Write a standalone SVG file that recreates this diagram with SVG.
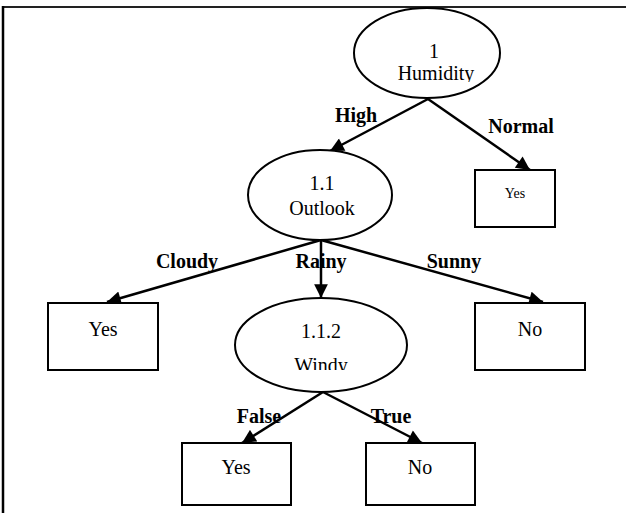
<svg xmlns="http://www.w3.org/2000/svg" width="626" height="513" viewBox="0 0 626 513">
<style>
.node{fill:#fff;stroke:#000;stroke-width:2}
.t{font-family:'Liberation Serif','Times New Roman',Tinos,'DejaVu Serif',serif;font-size:20px;font-weight:normal;fill:#000;text-anchor:middle}
.lbl{font-family:'Liberation Serif','Times New Roman',Tinos,'DejaVu Serif',serif;font-size:20px;font-weight:bold;fill:#000;text-anchor:middle}
.edge{stroke:#000;stroke-width:2.5;fill:none;marker-end:url(#ah)}
</style>
<defs>
<marker id="ah" viewBox="0 0 10 10" refX="10" refY="5" markerWidth="6" markerHeight="5.5" markerUnits="strokeWidth" orient="auto">
<path d="M0,0 L10,5 L0,10 z" fill="#000"/>
</marker>
<clipPath id="c1"><rect x="340" y="0" width="180" height="82"/></clipPath>
<clipPath id="c2"><rect x="230" y="290" width="180" height="80"/></clipPath>
</defs>
<rect width="626" height="513" fill="#fff"/>
<line x1="2" y1="7" x2="626" y2="7" stroke="#222" stroke-width="2"/>
<line x1="3" y1="6" x2="3" y2="513" stroke="#000" stroke-width="2.5"/>
<g id="edges">
<line class="edge" x1="428" y1="99" x2="330" y2="151"/>
<line class="edge" x1="428" y1="99" x2="530" y2="170"/>
<line class="edge" x1="321" y1="240" x2="107" y2="302"/>
<line class="edge" x1="321" y1="240" x2="321" y2="298"/>
<line class="edge" x1="321" y1="240" x2="543" y2="302"/>
<line class="edge" x1="323" y1="392" x2="242" y2="443"/>
<line class="edge" x1="323" y1="392" x2="422" y2="443"/>
</g>
<g id="labels">
<text class="lbl" x="356" y="122">High</text>
<text class="lbl" x="521" y="133">Normal</text>
<text class="lbl" x="187" y="268">Cloudy</text>
<text class="lbl" x="321" y="268">Rainy</text>
<text class="lbl" x="454" y="268">Sunny</text>
<text class="lbl" x="259" y="423">False</text>
<text class="lbl" x="391" y="423">True</text>
</g>
<g id="n1">
<ellipse class="node" cx="427" cy="53" rx="73" ry="45"/>
<g clip-path="url(#c1)">
<text class="t" x="434" y="58">1</text>
<text class="t" x="436" y="80">Humidity</text>
</g>
</g>
<g id="n11">
<ellipse class="node" cx="320" cy="195" rx="72" ry="45"/>
<text class="t" x="322" y="190">1.1</text>
<text class="t" x="322" y="215">Outlook</text>
</g>
<g id="n112">
<ellipse class="node" cx="321" cy="345" rx="86" ry="47"/>
<g clip-path="url(#c2)">
<text class="t" x="321" y="338">1.1.2</text>
<text class="t" x="321" y="372">Windy</text>
</g>
</g>
<g id="yes1">
<rect class="node" x="475" y="170" width="80" height="57"/>
<text class="t" x="515" y="198" style="font-size:14px">Yes</text>
</g>
<g id="yes2">
<rect class="node" x="48" y="303" width="110" height="67"/>
<text class="t" x="103" y="336">Yes</text>
</g>
<g id="no1">
<rect class="node" x="475" y="303" width="110" height="67"/>
<text class="t" x="530" y="336">No</text>
</g>
<g id="yes3">
<rect class="node" x="182" y="443" width="109" height="62"/>
<text class="t" x="236" y="474">Yes</text>
</g>
<g id="no2">
<rect class="node" x="366" y="443" width="109" height="62"/>
<text class="t" x="420" y="474">No</text>
</g>
</svg>
